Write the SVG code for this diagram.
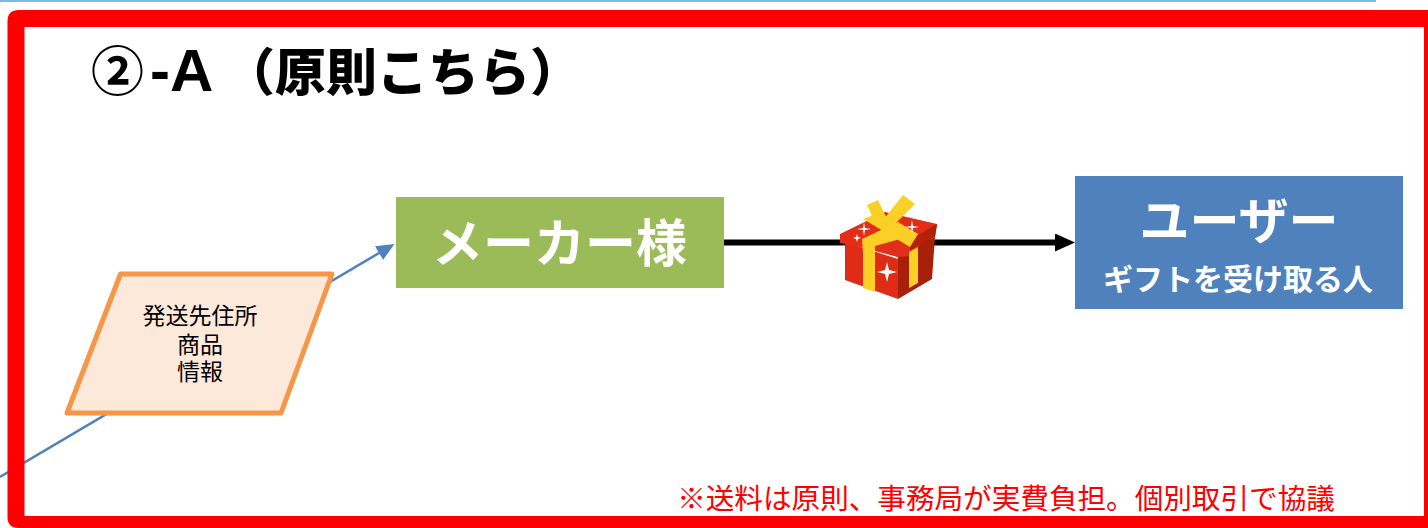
<svg xmlns="http://www.w3.org/2000/svg" width="1428" height="528" viewBox="0 0 1428 528">
<style>
text{font-family:"Noto Sans CJK JP","Liberation Sans",sans-serif;text-anchor:middle}
.b{font-weight:900;text-anchor:start}
.w{fill:#fff;font-weight:700}
.s{font-size:23px;fill:#000}
</style>
<defs>
<marker id="ab" markerUnits="userSpaceOnUse" markerWidth="18" markerHeight="16" refX="7" refY="8" orient="auto"><path d="M0 0L18 8L0 16Z" fill="#4f81bd"/></marker>
<marker id="ak" markerUnits="userSpaceOnUse" markerWidth="20" markerHeight="18" refX="5" refY="9" orient="auto"><path d="M0 0L20 9L0 18Z" fill="#000"/></marker>
</defs>
<rect width="1428" height="528" fill="#fff"/>
<path d="M0 .5H1376" stroke="#7fbae0" stroke-width="3" fill="none"/>
<g id="connectors" fill="none">
<path d="M0 477L385 249.500" stroke="#4f81bd" stroke-width="2.500" marker-end="url(#ab)"/>
<path d="M724 242.500H1060" stroke="#000" stroke-width="6" marker-end="url(#ak)"/>
</g>
<g id="frame"><path d="M19 10H1428V27H24.500V516H1428V528H19Q7.500 528 7.500 517V21Q7.500 10 19 10ZM1424 27H1428V516H1424Z" fill="#f00"/></g>
<g id="title"><text class="b" y="91" font-size="51"><tspan x="91" font-size="53" font-weight="700">②</tspan><tspan x="150" font-size="60" font-weight="700" font-family="Liberation Sans">-A</tspan><tspan x="224">（原則こちら）</tspan></text></g>
<g id="maker"><rect x="396" y="197" width="328" height="91" fill="#9bbb59"/><text class="w" x="559.500" y="262" font-size="51">メーカー様</text></g>
<g id="user"><rect x="1075" y="176" width="328" height="133" fill="#4f81bd"/><text class="w" x="1239" y="239" font-size="50">ユーザー</text><text class="w" x="1238" y="290" font-size="30">ギフトを受け取る人</text></g>
<g id="info"><path d="M120.500 274H332L281 413H67Z" fill="#fde9d9" stroke="#f79646" stroke-width="5" stroke-linejoin="round"/><text class="s" y="324"><tspan x="200">発送先住所</tspan><tspan x="200" dy="29">商品</tspan><tspan x="200" dy="27">情報</tspan></text></g>
<g id="gift">
<path d="M845 242L898 259V299L845 280Z" fill="#df2c17"/>
<path d="M898 257L935 237L932 279L898 299Z" fill="#a82008"/>
<path d="M840 234L885 212L937 224L935 237L898 257L875 250L840 243Z" fill="#e32d18"/>
<path d="M937 224L935 237L898 257L898 247Z" fill="#b32208"/>
<path d="M875 246L897 235L910 247V256L898 257L875 251Z" fill="#e0301a"/>
<path d="M863 250L875 254V292L863 288ZM909 252L918 247V283L909 288Z" fill="#fbd026"/>
<path d="M862 239L898 222L918 234L875 246V254L863 252Z" fill="#fbd026"/>
<path d="M863 219L876 214L918 234L910 247Z" fill="#fbd026"/>
<path d="M867 205L878 200L890 225L877 227ZM903 195L915 204L890 229L883 220Z" fill="#fbd026"/>
<path d="M887 262L889 270L897 272L889 274L887 282L885 274L877 272L885 270ZM864 222L865 228L871 229L865 230L864 236L863 230L857 229L863 228ZM857 234L858 237L861 238L858 239L857 242L856 239L853 238L856 237ZM912 220L913 226L919 227L913 228L912 234L911 228L905 227L911 226Z" fill="#fff"/>
</g>
<g id="note"><text x="1006" y="509" font-size="28.600" fill="#f00">※送料は原則、事務局が実費負担。個別取引で協議</text></g>
</svg>
